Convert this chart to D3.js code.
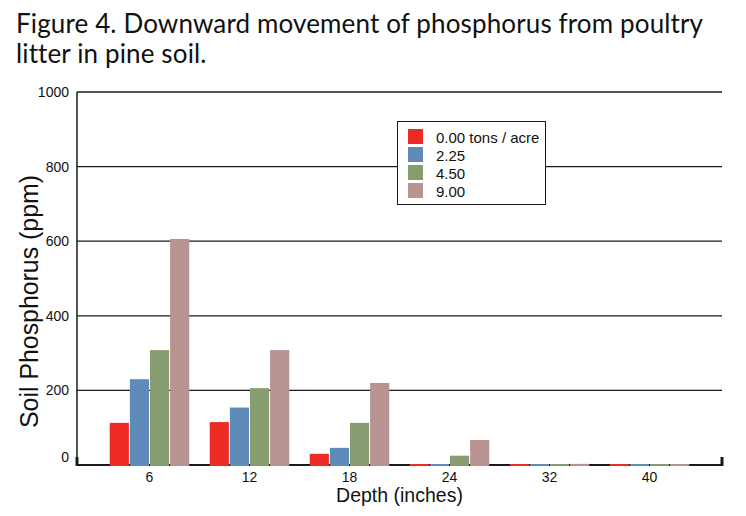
<!DOCTYPE html>
<html>
<head>
<meta charset="utf-8">
<script src="https://cdn.jsdelivr.net/npm/d3@7"></script>
<style>
  html, body { margin: 0; padding: 0; background: #fff; }
  svg { display: block; }
</style>
</head>
<body>
<svg id="chart" width="746" height="516"></svg>
<script>
// ---- data ----
const depths = ["6", "12", "18", "24", "32", "40"];
const seriesNames = ["0.00 tons / acre", "2.25", "4.50", "9.00"];
const rate000 = [113, 115, 30, 0, 0, 0];
const rate225 = [230, 154, 46, 0, 0, 0];
const rate450 = [308, 206, 113, 25, 0, 0];
const rate900 = [606, 308, 220, 67, 3, 0];
const yTicks = [0, 200, 400, 600, 800, 1000];
const colors = ["#ee2a24", "#5f8bb8", "#879c6f", "#b99292"];

(function () {
const seriesValues = [rate000, rate225, rate450, rate900];

const svg = d3.select("#chart");
const pLeft = 77, pRight = 722, pTop = 92, pBottom = 465;

const x0 = d3.scaleBand().domain(depths).range([pLeft, pRight]).paddingInner(0.2).paddingOuter(0.325);
const x1 = d3.scaleBand().domain(d3.range(seriesNames.length)).range([0, x0.bandwidth()]).paddingInner(0.05).paddingOuter(0.0125);
const y = d3.scaleLinear().domain([0, 1000]).range([pBottom, pTop]);

// title
const titleLines = ["Figure 4. Downward movement of phosphorus from poultry", "litter in pine soil."];
const titleG = svg.append("g");
const t1 = titleG.append("text").attr("x", 16).attr("y", 33)
  .style("font-family", "Lato, 'Open Sans', sans-serif").style("font-size", "26px").attr("fill", "#111")
  .text(titleLines[0]);
const w = t1.node().getComputedTextLength();
const ls = (687 - w) / (titleLines[0].length - 1);
t1.style("letter-spacing", ls + "px");
titleG.append("text").attr("x", 16).attr("y", 63)
  .style("font-family", "Lato, 'Open Sans', sans-serif").style("font-size", "26px").attr("fill", "#111")
  .style("letter-spacing", ls + "px")
  .text(titleLines[1]);

// gridlines
svg.append("g").selectAll("line").data(yTicks.filter(d => d > 0)).join("line")
  .attr("x1", pLeft).attr("x2", pRight)
  .attr("y1", d => y(d)).attr("y2", d => y(d))
  .attr("stroke", "#1a1a1a").attr("stroke-width", 1.3);

// y axis line
svg.append("line").attr("x1", pLeft).attr("x2", pLeft).attr("y1", y(1000)).attr("y2", y(0))
  .attr("stroke", "#1a1a1a").attr("stroke-width", 1.5);
// baseline
svg.append("line").attr("x1", pLeft).attr("x2", pRight).attr("y1", y(0)).attr("y2", y(0))
  .attr("stroke", "#1a1a1a").attr("stroke-width", 2);
// corner marks
svg.append("g").selectAll("rect").data([pLeft, pRight]).join("rect")
  .attr("x", d => d - 1.5).attr("y", y(0) - 8).attr("width", 3).attr("height", 9)
  .attr("fill", "#1a1a1a");

// y tick labels
svg.append("g").selectAll("text").data(yTicks).join("text")
  .attr("x", 69).attr("y", d => d === 0 ? y(d) - 8 : y(d))
  .attr("dy", "0.35em").attr("text-anchor", "end")
  .style("font-family", "'Liberation Sans', Arial, sans-serif").style("font-size", "14px").attr("fill", "#111")
  .text(d => d);

// bars
const groups = svg.append("g").selectAll("g").data(depths).join("g")
  .attr("transform", d => `translate(${x0(d)},0)`);
groups.selectAll("rect").data((d, i) => seriesValues.map((s, k) => ({ k, v: s[i] }))).join("rect")
  .attr("x", d => x1(d.k))
  .attr("width", x1.bandwidth())
  .attr("y", d => Math.min(y(d.v), y(0) - 1))
  .attr("height", d => y(0) + 1 - Math.min(y(d.v), y(0) - 1))
  .attr("fill", d => colors[d.k]);

// x tick labels
svg.append("g").selectAll("text").data(depths).join("text")
  .attr("x", d => x0(d) + x0.bandwidth() / 2).attr("y", 482)
  .attr("text-anchor", "middle")
  .style("font-family", "'Liberation Sans', Arial, sans-serif").style("font-size", "14px").attr("fill", "#111")
  .text(d => d);

// axis titles
svg.append("text").attr("x", (pLeft + pRight) / 2).attr("y", 502).attr("text-anchor", "middle")
  .style("font-family", "'Liberation Sans', Arial, sans-serif").style("font-size", "19.5px").attr("fill", "#111")
  .text("Depth (inches)");
svg.append("text").attr("transform", "translate(38,301.5) rotate(-90)").attr("text-anchor", "middle")
  .style("font-family", "'Liberation Sans', Arial, sans-serif").style("font-size", "26px").attr("fill", "#111")
  .attr("textLength", 253).attr("lengthAdjust", "spacingAndGlyphs")
  .text("Soil Phosphorus (ppm)");

// legend
const lg = svg.append("g");
lg.append("rect").attr("x", 397.5).attr("y", 121.5).attr("width", 148).attr("height", 83)
  .attr("fill", "#fff").attr("stroke", "#1a1a1a").attr("stroke-width", 1);
const items = lg.selectAll("g.item").data(seriesNames).join("g").attr("class", "item")
  .attr("transform", (d, i) => `translate(408,${129 + i * 18})`);
items.append("rect").attr("width", 15).attr("height", 15).attr("fill", (d, i) => colors[i]);
items.append("text").attr("x", 28).attr("y", 13.5)
  .style("font-family", "'Liberation Sans', Arial, sans-serif").style("font-size", "15px").attr("fill", "#111")
  .text(d => d);
})();
</script>
</body>
</html>
